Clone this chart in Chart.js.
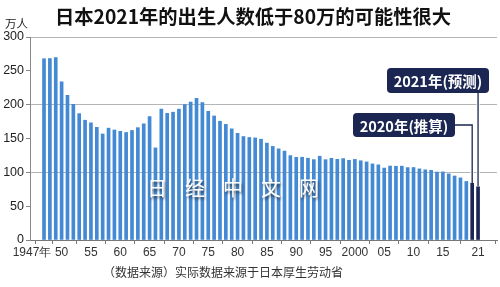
<!DOCTYPE html>
<html><head><meta charset="utf-8">
<script src="https://cdn.jsdelivr.net/npm/chart.js@4"></script>
<style>
html,body{margin:0;padding:0;background:#fff;}
#wrap{position:relative;width:500px;height:287px;overflow:hidden;font-family:"Noto Sans CJK SC","Noto Sans",sans-serif;}
canvas{position:absolute;left:0;top:0;}
.t{position:absolute;white-space:nowrap;color:#111;}
#title{left:0;width:506px;text-align:center;top:4px;font-size:19.3px;font-weight:bold;line-height:24px;}
#unit{left:5px;top:16px;font-size:11.5px;line-height:14px;color:#222;}
#src{left:103px;top:264px;font-size:12px;line-height:16px;color:#333;}
#wm{left:147px;top:176px;font-size:20px;line-height:24px;color:#fff;letter-spacing:18px;text-shadow:1px 2px 3px rgba(0,0,0,0.6);}
</style></head>
<body><div id="wrap">
<canvas id="c" width="500" height="287"></canvas>
<div class="t" id="title">日本2021年的出生人数低于80万的可能性很大</div>
<div class="t" id="unit">万人</div>
<div class="t" id="wm">日经中文网</div>
<div class="t" id="src">（数据来源）实际数据来源于日本厚生劳动省</div>
</div>
<script>
const years = [];
for (let y = 1947; y <= 2021; y++) years.push(y);
const births = [267.9,268.2,269.7,233.8,213.8,200.5,186.8,177.0,173.1,166.5,
156.7,165.3,162.6,160.6,158.9,161.9,166.0,171.7,182.4,136.1,
193.6,187.2,188.9,193.4,200.1,203.9,209.2,203.0,190.1,183.3,
175.5,170.9,164.3,157.7,152.9,151.5,150.9,149.0,143.2,138.3,
134.7,131.4,124.7,122.2,122.3,120.9,118.8,123.8,118.7,120.7,
119.2,120.3,117.8,119.1,117.1,115.4,112.4,111.1,106.3,109.3,
109.0,109.1,107.0,107.1,105.1,103.7,103.0,100.4,100.6,97.7,
94.6,91.8,86.5,84.1,79.0];
const tickYears = [1947,1950,1955,1960,1965,1970,1975,1980,1985,1990,1995,2000,2005,2010,2015,2021];
const tickLabels = ["1947年\u2003\u2003","50","55","60","65","70","75","80","85","90","95","2000","05","10","15","21"];
const yTicks = [0,50,100,150,200,250,300];
const calloutLabels = ["2020年(推算)","2021年(预测)"];

const BLUE = '#4389d3', NAVY = '#1b2652';

function roundRect(ctx,x,y,w,h,r){
  ctx.beginPath();
  ctx.moveTo(x+r,y);ctx.lineTo(x+w-r,y);ctx.quadraticCurveTo(x+w,y,x+w,y+r);
  ctx.lineTo(x+w,y+h-r);ctx.quadraticCurveTo(x+w,y+h,x+w-r,y+h);
  ctx.lineTo(x+r,y+h);ctx.quadraticCurveTo(x,y+h,x,y+h-r);
  ctx.lineTo(x,y+r);ctx.quadraticCurveTo(x,y,x+r,y);ctx.closePath();
}
function strokePath(ctx, pts){
  [['#fff',3.2],[NAVY,1.3]].forEach(([c,w])=>{
    ctx.strokeStyle=c;ctx.lineWidth=w;ctx.beginPath();
    ctx.moveTo(pts[0][0],pts[0][1]);
    for(let i=1;i<pts.length;i++) ctx.lineTo(pts[i][0],pts[i][1]);
    ctx.stroke();
  });
}
const callouts = {
  id:'callouts',
  afterDatasetsDraw(chart){
    const ctx=chart.ctx, meta=chart.getDatasetMeta(0);
    const n=meta.data.length;
    const b20=meta.data[n-2], b21=meta.data[n-1];
    ctx.save();
    strokePath(ctx, [[b21.x, 92],[b21.x, b21.y]]);
    strokePath(ctx, [[454,125],[b20.x,125],[b20.x,b20.y]]);
    const boxes=[[353,113,102,24,calloutLabels[0]],[387,68,102,25,calloutLabels[1]]];
    boxes.forEach(([x,y,w,h,t])=>{
      roundRect(ctx,x,y,w,h,4);
      ctx.fillStyle=NAVY;ctx.fill();
      ctx.fillStyle='#fff';
      ctx.font='bold 14.5px "Noto Sans CJK SC", sans-serif';
      ctx.textAlign='center';ctx.textBaseline='middle';
      ctx.fillText(t,x+w/2,y+h/2+1);
    });
    ctx.restore();
  }
};

new Chart(document.getElementById('c'),{
  type:'bar',
  data:{datasets:[{
    data: years.map((y,i)=>({x:y,y:births[i]})),
    backgroundColor: ctx => ctx.dataIndex >= births.length-2 ? NAVY : BLUE,
    barThickness:3,
    borderWidth:0
  }]},
  options:{
    responsive:false,animation:false,
    layout:{padding:{top:37,right:3,left:0,bottom:0}},
    plugins:{legend:{display:false},tooltip:{enabled:false}},
    scales:{
      x:{
        type:'linear',min:1944.61,max:2024.23,offset:false,
        afterBuildTicks: s => { s.ticks = tickYears.map(v=>({value:v})); },
        afterFit: s => { s.height = 47; },
        ticks:{autoSkip:false,maxRotation:0,padding:1,color:'#333',
          font:{family:'"Liberation Sans", Arial, sans-serif',size:12},
          callback:(v,i)=>tickLabels[i]},
        grid:{drawOnChartArea:false,drawTicks:true,tickLength:4,tickColor:'#777'},
        border:{display:true,color:'#777',width:1}
      },
      y:{
        min:0,max:300,
        afterBuildTicks: s => { s.ticks = yTicks.map(v=>({value:v})); },
        afterFit: s => { s.width = 30; },
        ticks:{padding:2,color:'#222',
          font:{family:'"Liberation Sans", Arial, sans-serif',size:12.5}},
        grid:{color: c => (c.tick && c.tick.value%100===0 && c.tick.value>0) ? '#b5b5b5' : 'rgba(0,0,0,0)',
          lineWidth:1,drawTicks:true,tickLength:4,tickColor:'#888'},
        border:{display:true,color:'#888',width:1}
      }
    }
  },
  plugins:[callouts]
});
</script>
</body></html>
